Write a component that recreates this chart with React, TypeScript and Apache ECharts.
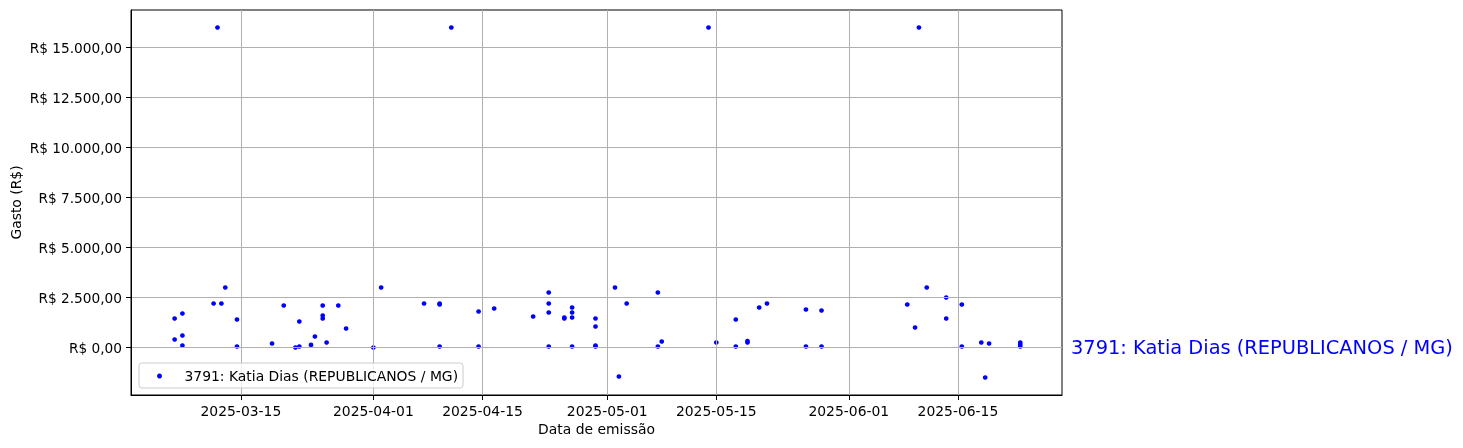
import React, { useEffect, useRef } from "react";
import * as echarts from "echarts";

// ---- data ----
const SERIES_NAME = "3791: Katia Dias (REPUBLICANOS / MG)";

const DATES: string[] = [
  "2025-03-06 12:00", "2025-03-06 12:00", "2025-03-07 12:00", "2025-03-07 12:00", "2025-03-07 12:00",
  "2025-03-11 12:00", "2025-03-12", "2025-03-12 12:00", "2025-03-13", "2025-03-14 12:00",
  "2025-03-14 12:00", "2025-03-19", "2025-03-20 12:00", "2025-03-22", "2025-03-22 12:00",
  "2025-03-22 12:00", "2025-03-24", "2025-03-24 12:00", "2025-03-25 12:00", "2025-03-25 12:00",
  "2025-03-25 12:00", "2025-03-26", "2025-03-27 12:00", "2025-03-28 12:00", "2025-04-01",
  "2025-04-02", "2025-04-07 12:00", "2025-04-09 12:00", "2025-04-09 12:00", "2025-04-09 12:00",
  "2025-04-11", "2025-04-14 12:00", "2025-04-14 12:00", "2025-04-16 12:00", "2025-04-21 12:00",
  "2025-04-23 12:00", "2025-04-23 12:00", "2025-04-23 12:00", "2025-04-23 12:00", "2025-04-25 12:00",
  "2025-04-25 12:00", "2025-04-26 12:00", "2025-04-26 12:00", "2025-04-26 12:00", "2025-04-26 12:00",
  "2025-04-29 12:00", "2025-04-29 12:00", "2025-04-29 12:00", "2025-04-29 12:00", "2025-05-02",
  "2025-05-02 12:00", "2025-05-03 12:00", "2025-05-07 12:00", "2025-05-07 12:00", "2025-05-08",
  "2025-05-14", "2025-05-15", "2025-05-17 12:00", "2025-05-17 12:00", "2025-05-19",
  "2025-05-19", "2025-05-20 12:00", "2025-05-21 12:00", "2025-05-26 12:00", "2025-05-26 12:00",
  "2025-05-28 12:00", "2025-05-28 12:00", "2025-06-08 12:00", "2025-06-09 12:00", "2025-06-10",
  "2025-06-11", "2025-06-13 12:00", "2025-06-13 12:00", "2025-06-15 12:00", "2025-06-15 12:00",
  "2025-06-18", "2025-06-18 12:00", "2025-06-19", "2025-06-23", "2025-06-23",
  "2025-06-23",
];

const VALUES: number[] = [
  1450, 400, 1700, 600, 100,
  2200, 16000, 2200, 3000, 1400,
  50, 200, 2100, 0, 50,
  1300, 130, 550, 2100, 1600,
  1450, 250, 2100, 950, 0,
  3000, 2200, 2200, 2150, 50,
  16000, 1800, 50, 1950, 1550,
  2750, 2200, 1750, 50, 1450,
  1500, 2000, 1750, 1500, 50,
  1450, 1050, 100, 50, 3000,
  -1450, 2200, 2750, 50, 300,
  16000, 250, 1400, 50, 250,
  320, 2000, 2200, 1900, 50,
  1850, 50, 2150, 1000, 16000,
  3000, 2500, 1450, 2150, 50,
  250, -1500, 200, 250, 150,
  50,
];

const X_TICKS: string[] = ["2025-03-15", "2025-04-01", "2025-04-15", "2025-05-01", "2025-05-15", "2025-06-01", "2025-06-15"];
const Y_TICKS: number[] = [0, 2500, 5000, 7500, 10000, 12500, 15000];
const X_RANGE: string[] = ["2025-02-28 21:40", "2025-06-28 08:30"];
const Y_RANGE: number[] = [-2375, 16875];

function toUTC(s: string): number {
  const [d, t] = s.split(/[T ]/);
  const [y, m, dd] = d.split("-").map(Number);
  const [hh, mm] = (t || "00:00").split(":").map(Number);
  return Date.UTC(y, m - 1, dd, hh, mm);
}

function brl(v: number): string {
  const neg = v < 0;
  const [int, dec] = Math.abs(v).toFixed(2).split(".");
  const intF = int.replace(/\B(?=(\d{3})+(?!\d))/g, ".");
  return (neg ? "-" : "") + "R$ " + intF + "," + dec;
}

function fmtDate(v: number): string {
  return new Date(v).toISOString().slice(0, 10);
}

const FONT = "DejaVu Sans";

export default function App() {
  const ref = useRef<HTMLDivElement>(null);

  useEffect(() => {
    if (!ref.current) return;
    const chart = echarts.init(ref.current, undefined, { renderer: "svg" });
    const xTicks = X_TICKS.map(toUTC);
    const xMin = toUTC(X_RANGE[0]);
    const xMax = toUTC(X_RANGE[1]);
    const data = DATES.map((d, i) => [toUTC(d), VALUES[i]]);

    chart.setOption({
      animation: false,
      textStyle: { fontFamily: FONT },
      grid: {
        left: 131,
        right: 401,
        top: 10,
        bottom: 53,
        show: true,
        borderColor: "#000",
        borderWidth: 1,
        backgroundColor: "transparent",
        containLabel: false,
        outerBoundsMode: "none",
      },
      legend: {
        left: 139,
        top: 363,
        orient: "horizontal",
        selectedMode: false,
        backgroundColor: "rgba(255,255,255,0.8)",
        borderColor: "#cccccc",
        borderWidth: 1,
        borderRadius: 3,
        padding: [5, 5, 4, 18],
        itemWidth: 40,
        itemHeight: 5,
        icon: "circle",
        textStyle: { fontSize: 13.9, color: "#000", fontFamily: FONT, lineHeight: 16 },
        data: [SERIES_NAME],
      },
      xAxis: {
        type: "value",
        min: xMin,
        max: xMax,
        z: 3,
        name: "Data de emissão",
        nameLocation: "middle",
        nameGap: 27,
        nameMoveOverlap: false,
        nameTextStyle: { fontSize: 13.9, color: "#000", fontFamily: FONT },
        axisLine: { show: true, onZero: false, lineStyle: { color: "#000", width: 1 } },
        axisTick: { show: true, length: 5, customValues: xTicks, lineStyle: { color: "#000", width: 1 } },
        axisLabel: {
          customValues: xTicks,
          formatter: (v: number) => fmtDate(v),
          fontSize: 13.9,
          color: "#000",
          fontFamily: FONT,
          margin: 9,
          hideOverlap: false,
        },
        splitLine: { show: true, lineStyle: { color: "#b0b0b0", width: 1 } },
      },
      yAxis: {
        type: "value",
        min: Y_RANGE[0],
        max: Y_RANGE[1],
        z: 3,
        name: "Gasto (R$)",
        nameLocation: "middle",
        nameRotate: 90,
        nameGap: 108,
        nameMoveOverlap: false,
        nameTextStyle: { fontSize: 13.9, color: "#000", fontFamily: FONT },
        axisLine: { show: true, onZero: false, lineStyle: { color: "#000", width: 1 } },
        axisTick: { show: true, length: 5, customValues: Y_TICKS, lineStyle: { color: "#000", width: 1 } },
        axisLabel: {
          customValues: Y_TICKS,
          formatter: (v: number) => brl(v),
          fontSize: 13.7,
          color: "#000",
          fontFamily: FONT,
          margin: 9,
        },
        splitLine: { show: true, lineStyle: { color: "#b0b0b0", width: 1 } },
      },
      series: [
        {
          type: "scatter",
          name: SERIES_NAME,
          data,
          symbol: "circle",
          symbolSize: 4.7,
          itemStyle: { color: "#0000ff", opacity: 1 },
          z: 2,
        },
      ],
    });

    const p = chart.convertToPixel({ gridIndex: 0 }, [xMax, 0]) as number[];
    chart.setOption({
      graphic: [
        {
          type: "text",
          x: p[0] + 9,
          y: p[1],
          z: 10,
          style: {
            text: SERIES_NAME,
            fill: "#0000ff",
            fontSize: 19.4,
            fontFamily: FONT,
            align: "left",
            verticalAlign: "middle",
          },
        },
      ],
    });

    return () => chart.dispose();
  }, []);

  return (
    <div
      ref={ref}
      style={{ position: "fixed", left: 0, top: 0, width: 1463, height: 448 }}
    />
  );
}
